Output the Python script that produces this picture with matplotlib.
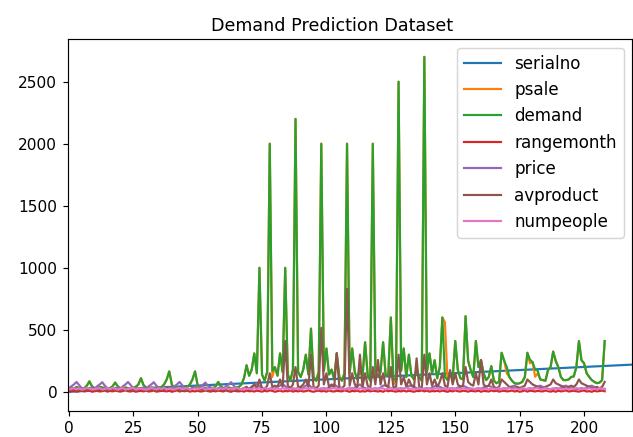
import matplotlib
matplotlib.use("Agg")
import matplotlib.pyplot as plt
import numpy as np

title = "Demand Prediction Dataset"
labels = ["serialno", "psale", "demand", "rangemonth", "price", "avproduct", "numpeople"]

serialno = list(range(1, 221))

demand = [
    20, 35, 25, 40, 30, 25, 30, 50, 85, 45,
    30, 25, 40, 35, 30, 25, 30, 45, 75, 45,
    30, 25, 35, 30, 25, 35, 40, 60, 110, 55,
    35, 25, 35, 30, 25, 35, 40, 60, 100, 165,
    60, 25, 35, 30, 25, 35, 40, 60, 100, 165,
    55, 25, 35, 30, 25, 35, 30, 45, 80, 45,
    30, 25, 35, 30, 25, 35, 40, 60, 110, 215,
    130, 180, 310, 150, 1000, 140, 90, 160, 2000, 170,
    200, 130, 310, 160, 1000, 140, 90, 180, 2200, 160,
    120, 180, 300, 140, 510, 120, 90, 160, 2000, 170,
    350, 140, 180, 100, 310, 120, 90, 150, 2000, 150,
    350, 160, 100, 190, 120, 400, 140, 90, 2000, 160,
    120, 160, 400, 130, 140, 600, 110, 90, 2500, 170,
    350, 120, 300, 130, 100, 180, 120, 90, 2700, 160,
    310, 150, 255, 110, 200, 600, 120, 95, 150, 110,
    410, 176, 110, 100, 610, 250, 176, 120, 410, 200,
    255, 150, 95, 120, 208, 90, 70, 80, 315, 250,
    200, 120, 90, 70, 65, 70, 80, 120, 315, 260,
    240, 180, 170, 100, 95, 90, 176, 200, 325, 250,
    200, 120, 95, 95, 100, 120, 125, 200, 410, 255,
    230, 150, 120, 95, 80, 70, 75, 95, 410,
]

psale = [
    20, 35, 25, 40, 30, 25, 30, 50, 85, 45,
    30, 25, 40, 35, 30, 25, 30, 45, 75, 45,
    30, 25, 35, 30, 25, 35, 40, 60, 110, 55,
    35, 25, 35, 30, 25, 35, 40, 60, 100, 165,
    60, 25, 35, 30, 25, 35, 40, 60, 100, 165,
    55, 25, 35, 30, 25, 35, 30, 45, 80, 45,
    30, 25, 35, 30, 25, 35, 40, 60, 110, 215,
    130, 180, 310, 150, 1000, 140, 90, 160, 2000, 120,
    200, 130, 310, 160, 1000, 140, 90, 180, 2200, 160,
    120, 180, 300, 140, 510, 120, 90, 160, 2000, 170,
    350, 140, 180, 100, 310, 120, 90, 150, 2000, 150,
    350, 160, 100, 190, 120, 400, 140, 90, 2000, 160,
    120, 160, 400, 130, 140, 600, 60, 90, 2500, 170,
    350, 120, 300, 130, 100, 180, 120, 90, 2700, 160,
    310, 150, 255, 110, 200, 600, 560, 95, 150, 110,
    410, 176, 110, 100, 610, 250, 176, 120, 410, 200,
    255, 150, 95, 120, 208, 90, 70, 80, 315, 250,
    150, 120, 90, 70, 65, 70, 80, 120, 315, 230,
    240, 122, 150, 100, 95, 90, 176, 200, 325, 250,
    200, 120, 95, 95, 100, 120, 125, 200, 410, 255,
    230, 150, 120, 95, 80, 70, 75, 95, 410,
]

rangemonth = [
    3, 5, 8, 2, 6, 10, 4, 7, 12, 1,
    5, 9, 3, 6, 11, 2, 8, 4, 10, 6,
    2, 7, 12, 5, 3, 9, 1, 6, 8, 4,
    10, 3, 6, 11, 2, 5, 8, 7, 4, 9,
    1, 6, 12, 3, 8, 5, 10, 2, 7, 4,
    9, 3, 5, 11, 6, 2, 8, 4, 10, 7,
    3, 12, 5, 1, 9, 6, 4, 8, 2, 11,
    5, 7, 3, 10, 6, 2, 9, 4, 12, 8,
    1, 6, 10, 3, 7, 5, 11, 2, 8, 4,
    9, 3, 6, 12, 5, 1, 7, 10, 4, 8,
    2, 11, 5, 3, 9, 6, 4, 12, 7, 1,
    8, 5, 10, 2, 6, 3, 11, 4, 9, 7,
    3, 8, 1, 12, 5, 10, 6, 2, 7, 4,
    11, 3, 9, 5, 1, 8, 6, 12, 4, 10,
    2, 7, 5, 9, 3, 11, 6, 1, 8, 4,
    12, 5, 3, 10, 7, 2, 9, 6, 4, 11,
    1, 8, 6, 3, 12, 5, 10, 2, 7, 9,
    4, 6, 11, 3, 8, 1, 5, 12, 2, 10,
    7, 3, 9, 5, 4, 11, 6, 2, 8, 1,
    10, 4, 7, 12, 3, 6, 9, 5, 2, 8,
    11, 3, 6, 1, 9, 4, 7, 10, 5,
]

price = [
    30, 45, 60, 80, 55, 30, 25, 20, 30, 35,
    25, 45, 60, 78, 50, 30, 25, 20, 30, 35,
    25, 45, 60, 80, 55, 30, 25, 20, 30, 35,
    25, 45, 60, 78, 50, 30, 25, 20, 30, 35,
    25, 45, 60, 80, 55, 30, 25, 20, 30, 35,
    25, 40, 55, 75, 50, 30, 25, 20, 30, 35,
    25, 45, 60, 78, 50, 30, 25, 20, 30, 35,
    25, 40, 55, 70, 45, 30, 25, 20, 25, 30,
    25, 40, 50, 65, 45, 30, 25, 20, 25, 30,
    25, 35, 50, 60, 40, 30, 25, 20, 25, 30,
    25, 35, 50, 60, 45, 30, 25, 20, 25, 30,
    25, 35, 45, 60, 40, 30, 25, 20, 25, 30,
    25, 35, 50, 55, 40, 30, 25, 20, 25, 30,
    25, 35, 45, 55, 40, 30, 25, 20, 25, 30,
    25, 35, 45, 55, 40, 30, 25, 20, 25, 30,
    25, 35, 45, 50, 40, 30, 25, 20, 25, 30,
    25, 35, 45, 50, 40, 30, 25, 20, 25, 30,
    25, 35, 45, 50, 40, 30, 25, 20, 25, 30,
    25, 35, 45, 50, 40, 30, 25, 20, 25, 30,
    25, 35, 45, 50, 40, 30, 25, 20, 25, 30,
    25, 35, 45, 50, 40, 30, 25, 20, 25,
]

avproduct = [
    15, 20, 18, 22, 16, 14, 18, 20, 25, 18,
    15, 17, 20, 18, 16, 14, 18, 20, 24, 18,
    15, 17, 20, 18, 16, 14, 18, 22, 30, 18,
    15, 17, 20, 18, 16, 14, 18, 22, 30, 35,
    18, 17, 20, 18, 16, 14, 18, 22, 30, 35,
    18, 17, 20, 18, 16, 14, 18, 20, 24, 18,
    15, 17, 20, 18, 16, 14, 18, 22, 30, 40,
    20, 40, 60, 30, 100, 30, 20, 50, 150, 40,
    50, 40, 100, 40, 410, 50, 30, 60, 200, 40,
    40, 60, 100, 40, 300, 40, 30, 50, 516, 60,
    150, 40, 60, 30, 313, 40, 30, 50, 830, 50,
    150, 60, 40, 300, 40, 150, 50, 30, 200, 60,
    257, 60, 150, 50, 40, 200, 40, 30, 300, 60,
    120, 40, 100, 50, 40, 270, 40, 30, 300, 60,
    150, 50, 100, 40, 80, 150, 50, 40, 176, 60,
    150, 60, 40, 50, 200, 80, 60, 50, 150, 60,
    257, 60, 40, 50, 100, 40, 30, 40, 100, 80,
    60, 40, 30, 30, 40, 30, 40, 50, 100, 80,
    60, 50, 40, 30, 30, 40, 50, 60, 100, 70,
    60, 50, 40, 30, 40, 50, 40, 60, 100, 70,
    60, 50, 40, 30, 30, 40, 30, 40, 80,
]

numpeople = [
    20, 25, 30, 22, 28, 18, 24, 32, 26, 20,
    22, 27, 31, 19, 25, 29, 21, 33, 24, 18,
    26, 30, 20, 23, 28, 34, 19, 25, 27, 22,
    18, 24, 31, 26, 20, 29, 23, 33, 21, 27,
    25, 19, 28, 32, 22, 26, 30, 20, 24, 29,
    21, 27, 33, 18, 25, 23, 30, 26, 19, 28,
    24, 31, 22, 27, 20, 34, 25, 18, 29, 23,
    26, 20, 30, 24, 28, 19, 33, 22, 27, 25,
    21, 29, 18, 31, 24, 26, 20, 32, 23, 28,
    19, 25, 30, 22, 27, 33, 21, 24, 29, 20,
    26, 18, 28, 31, 23, 25, 30, 19, 27, 22,
    32, 24, 20, 29, 26, 21, 33, 25, 18, 28,
    23, 30, 27, 20, 24, 31, 19, 26, 29, 22,
    25, 33, 21, 28, 18, 24, 30, 23, 27, 20,
    29, 22, 26, 32, 19, 25, 28, 21, 31, 24,
    20, 27, 23, 30, 25, 18, 29, 26, 22, 33,
    24, 21, 28, 19, 31, 26, 23, 30, 20, 27,
    25, 32, 22, 28, 24, 19, 30, 26, 21, 29,
    23, 27, 33, 20, 25, 31, 18, 24, 28, 22,
    30, 26, 19, 29, 23, 27, 21, 32, 25, 20,
    28, 24, 30, 22, 26, 19, 31, 25, 23,
]

series = [serialno, psale, demand, rangemonth, price, avproduct, numpeople]
colors = ["#1f77b4", "#ff7f0e", "#2ca02c", "#d62728", "#9467bd", "#8c564b", "#e377c2"]

fig = plt.figure(figsize=(633 / 105, 437 / 105), dpi=105)
ax = fig.add_axes([67.5 / 633, (437 - 410.5) / 437, (632 - 67.5) / 633, (410.5 - 39.5) / 437])

for lab, s, c in zip(labels, series, colors):
    ax.plot(np.arange(len(s)), s, color=c, lw=1.5, label=lab)

ax.set_xlim(-0.5, 218.6)
ax.set_ylim(-150, 2840)
ax.set_xticks([0, 25, 50, 75, 100, 125, 150, 175, 200])
ax.set_yticks([0, 500, 1000, 1500, 2000, 2500])
ax.tick_params(labelsize=10.5)
ax.set_title(title, fontsize=12, x=0.468)
ax.legend(loc="upper right", fontsize=11.5, handlelength=2.2)

fig.savefig("out.png", dpi=105)
